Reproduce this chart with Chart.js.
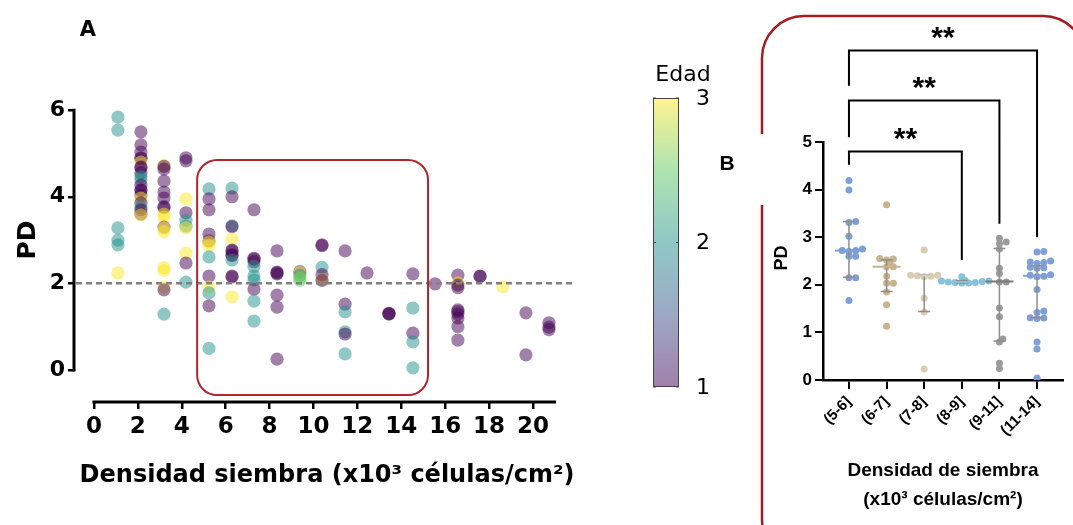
<!DOCTYPE html>
<html>
<head>
<meta charset="utf-8">
<script src="https://cdn.jsdelivr.net/npm/chart.js@4"></script>
<style>
body { margin: 0; background: #fff; }
#wrap { position: relative; width: 1073px; height: 525px; overflow: hidden; background: #fff; }
#chartA { position: absolute; left: 0; top: 0; }
#chartB { position: absolute; left: 700px; top: 0; }
</style>
</head>
<body>
<div id="wrap">
<canvas id="chartA" width="720" height="525"></canvas>
<canvas id="chartB" width="373" height="525"></canvas>
</div>
<script>
// ---- panel A: PD vs seeding density, coloured by age ----
const ticksXA = [0, 2, 4, 6, 8, 10, 12, 14, 16, 18, 20]
const ticksYA = [0, 2, 4, 6]
const edadTicks = [1, 2, 3]
const lineaRef = 2

// one entry per column of dots (density)
const densidad = [1.09, 2.14, 3.19, 4.19, 5.24, 6.29, 7.29, 8.34, 9.38, 10.39,
    11.44, 12.44, 13.44, 14.53, 15.54, 16.58, 17.59, 18.63, 19.68, 20.73]
const pd = [
    [5.84, 5.54, 3.28, 3.0, 2.89, 2.24],
    [5.5, 5.2, 5.03, 4.9, 4.88, 4.8, 4.69, 4.67, 4.55, 4.46, 4.39, 4.27, 4.16, 4.14, 4.04, 3.97, 3.86, 3.76, 3.7, 3.6, 3.58],
    [4.73, 4.7, 4.64, 4.36, 4.11, 3.97, 3.77, 3.75, 3.6, 3.53, 3.3, 3.28, 3.19, 2.36, 2.3, 1.92, 1.85, 1.29],
    [4.9, 4.83, 3.95, 3.63, 3.46, 3.32, 3.28, 2.7, 2.47, 2.03],
    [4.18, 3.95, 3.7, 3.14, 2.98, 2.95, 2.88, 2.61, 2.17, 1.92, 1.78, 1.48, 0.5],
    [4.2, 4.0, 3.33, 3.31, 3.02, 2.77, 2.75, 2.66, 2.64, 2.54, 2.17, 2.15, 1.69],
    [3.7, 2.58, 2.56, 2.5, 2.39, 2.17, 2.08, 1.87, 1.59, 1.13],
    [2.75, 2.26, 2.24, 2.22, 1.73, 1.45, 0.25],
    [2.27, 2.25, 2.19, 2.12, 2.07],
    [2.89, 2.87, 2.37, 2.2, 2.08, 2.07],
    [2.75, 1.52, 1.34, 0.88, 0.83, 0.37],
    [2.24],
    [1.31, 1.3, 1.29],
    [2.22, 1.43, 0.85, 0.65, 0.05],
    [1.99],
    [2.19, 2.01, 1.96, 1.9, 1.39, 1.35, 1.29, 1.2, 1.0, 0.69],
    [2.17, 2.16],
    [1.92],
    [1.32, 0.35],
    [1.09, 0.99, 0.93],
]
const edad = [
    [2, 2, 2, 2, 2, 3],
    [1, 1, 1, 1, 1, 3, 1, 1, 1, 2, 2, 1, 1, 1, 1, 3, 1, 2, 1, 1, 3],
    [3, 1, 1, 1, 1, 1, 1, 1, 3, 3, 1, 3, 3, 3, 3, 3, 1, 2],
    [1, 1, 3, 1, 2, 2, 3, 3, 1, 2],
    [2, 1, 1, 1, 1, 3, 3, 2, 1, 3, 2, 1, 2],
    [2, 1, 2, 1, 3, 1, 1, 1, 1, 2, 1, 1, 3],
    [1, 1, 1, 1, 2, 2, 2, 1, 2, 2],
    [1, 1, 1, 1, 1, 1, 1],
    [1, 3, 2, 2.6, 2.5],
    [1, 1, 2, 1, 3, 1],
    [1, 1, 2, 2, 1, 2],
    [1],
    [1, 1, 1],
    [1, 2, 1, 2, 2],
    [1],
    [1, 3, 1, 1, 1, 1, 1, 1, 1, 1],
    [1, 1],
    [3],
    [1, 1],
    [1, 1, 1],
]

// ---- panel B: PD by density group ----
const grupos = ['(5-6]', '(6-7]', '(7-8]', '(8-9]', '(9-11]', '(11-14]']
const pdGrupos = [
    [4.19, 3.99, 3.33, 3.31, 3.02, 2.75, 2.72, 2.72, 2.7, 2.6, 2.6, 2.15, 2.15, 1.67],
    [3.68, 2.55, 2.54, 2.52, 2.45, 2.38, 2.38, 2.18, 2.03, 2.03, 1.85, 1.58, 1.13],
    [2.73, 2.2, 2.2, 2.19, 2.18, 2.17, 1.72, 1.43, 0.23],
    [2.17, 2.09, 2.08, 2.08, 2.07, 2.06, 2.05, 2.05, 2.04, 2.04],
    [2.98, 2.9, 2.87, 2.75, 2.35, 2.24, 2.06, 2.06, 1.51, 1.33, 0.86, 0.8, 0.35, 0.24],
    [2.7, 2.69, 2.5, 2.48, 2.47, 2.45, 2.37, 2.36, 2.35, 2.21, 2.2, 2.18, 2.17, 1.9, 1.45, 1.42, 1.31, 1.3, 1.29, 0.8, 0.65, 0.04],
]
const medianas = [2.72, 2.38, 2.19, 2.06, 2.07, 2.19]
const q1 = [2.16, 1.86, 1.44, 2.04, 0.82, 1.31]
const q3 = [3.33, 2.52, 2.2, 2.09, 2.76, 2.4]
const comparaciones = [[0, 3], [0, 4], [0, 5]]
const significancia = ['**', '**', '**']

const ticksYB = [0, 1, 2, 3, 4, 5]
const coloresGrupo = ['#7e9fd8', '#c9b38c', '#d9cdb4', '#86c3da', '#9b9b9b', '#7e9fd8']

const fontA = "'DejaVu Sans', sans-serif"
const fontB = "'Liberation Sans', Arial, sans-serif"

const VIRIDIS = [[68, 1, 84], [59, 82, 139], [33, 145, 140], [94, 201, 98], [253, 231, 37]]

function viridis(t, a) {
    t = Math.max(0, Math.min(1, t))
    const p = t * (VIRIDIS.length - 1)
    const i = Math.min(Math.floor(p), VIRIDIS.length - 2)
    const f = p - i
    const c = VIRIDIS[i].map((v, k) => Math.round(v + (VIRIDIS[i + 1][k] - v) * f))
    return `rgba(${c[0]},${c[1]},${c[2]},${a})`
}

function colorEdad(e) {
    return viridis((e - 1) / 2, 0.5)
}

// simple beeswarm so dots with similar values sit side by side
function beeswarm(values, pxX, pxY, step, minDist) {
    const order = values.map((v, i) => i).sort((a, b) => values[a] - values[b])
    const placed = []
    const offsets = new Array(values.length).fill(0)
    order.forEach(i => {
        for (let k = 0; k < 60; k++) {
            const off = (k % 2 ? 1 : -1) * Math.ceil(k / 2) * step
            const ok = placed.every(p => Math.hypot((p.off - off) * pxX, (p.v - values[i]) * pxY) >= minDist)
            if (ok) {
                offsets[i] = off
                placed.push({ off, v: values[i] })
                break
            }
        }
    })
    return offsets
}

let puntosA = []
let edadPuntos = []
densidad.forEach((x, i) => {
    pd[i].forEach((y, j) => {
        puntosA.push({ x, y })
        edadPuntos.push(edad[i][j])
    })
})

function text(ctx, str, x, y, font, align, baseline, rot) {
    ctx.save()
    ctx.translate(x, y)
    if (rot) ctx.rotate(rot)
    ctx.font = font
    ctx.fillStyle = '#000'
    ctx.textAlign = align || 'center'
    ctx.textBaseline = baseline || 'middle'
    ctx.fillText(str, 0, 0)
    ctx.restore()
}

const decorA = {
    id: 'decorA',
    afterDatasetsDraw(chart) {
        const { ctx, scales: { x, y }, chartArea } = chart
        // reference line
        ctx.save()
        ctx.strokeStyle = '#808080'
        ctx.lineWidth = 2.5
        ctx.setLineDash([6, 4])
        ctx.beginPath()
        ctx.moveTo(chartArea.left + 2, y.getPixelForValue(lineaRef))
        ctx.lineTo(x.getPixelForValue(21.8), y.getPixelForValue(lineaRef))
        ctx.stroke()
        ctx.restore()

        // highlighted region
        const x0 = x.getPixelForValue(4.7), x1 = x.getPixelForValue(15.22)
        const y0 = y.getPixelForValue(4.85), y1 = y.getPixelForValue(-0.58)
        ctx.save()
        ctx.strokeStyle = '#b0262b'
        ctx.lineWidth = 2
        ctx.beginPath()
        ctx.roundRect(x0, y0, x1 - x0, y1 - y0, 20)
        ctx.stroke()
        ctx.restore()
    },
    afterDraw(chart) {
        const { ctx, scales: { x, y }, chartArea } = chart
        ctx.save()
        ctx.strokeStyle = '#000'
        ctx.lineWidth = 3
        ctx.beginPath()
        ctx.moveTo(chartArea.left, y.getPixelForValue(0) + 1.5)
        ctx.lineTo(chartArea.left, y.getPixelForValue(6) - 1.5)
        ctx.moveTo(x.getPixelForValue(0) - 1.5, chartArea.bottom)
        ctx.lineTo(chartArea.right, chartArea.bottom)
        ctx.stroke()
        ctx.restore()

        text(ctx, 'A', 88, 31, `bold 21px ${fontA}`)
        text(ctx, 'PD', 28, 240, `bold 25px ${fontA}`, 'center', 'middle', -Math.PI / 2)
        text(ctx, 'Densidad siembra (x10³ células/cm²)', 327, 476, `bold 24px ${fontA}`)

        // colour bar for age
        const bx = 653, by = 98, bw = 26, bh = 289
        const grad = ctx.createLinearGradient(0, by + bh, 0, by)
        for (let i = 0; i <= 20; i++) {
            grad.addColorStop(i / 20, viridis(i / 20, 0.5))
        }
        ctx.save()
        ctx.fillStyle = grad
        ctx.fillRect(bx, by, bw, bh)
        ctx.strokeStyle = '#444'
        ctx.lineWidth = 1
        ctx.strokeRect(bx + 0.5, by + 0.5, bw - 1, bh - 1)
        edadTicks.forEach(v => {
            const ty = by + bh - (v - 1) / 2 * bh
            ctx.beginPath()
            ctx.moveTo(bx, ty); ctx.lineTo(bx + 3, ty)
            ctx.moveTo(bx + bw, ty); ctx.lineTo(bx + bw - 3, ty)
            ctx.stroke()
            text(ctx, String(v), bx + 43, ty + 1, `22px ${fontA}`, 'left')
        })
        ctx.restore()
        text(ctx, 'Edad', 683, 75, `22px ${fontA}`)
    },
}

new Chart('chartA', {
    type: 'scatter',
    data: {
        datasets: [{
            data: puntosA,
            backgroundColor: c => colorEdad(edadPuntos[c.dataIndex]),
            borderWidth: 0,
            pointRadius: 6.6,
        }],
    },
    options: {
        responsive: false,
        animation: false,
        layout: { padding: { left: 0, right: 164, top: 101.5, bottom: 0 } },
        plugins: { legend: { display: false }, tooltip: { enabled: false } },
        scales: {
            x: {
                type: 'linear',
                min: -0.91,
                max: 21.05,
                afterBuildTicks: s => { s.ticks = ticksXA.map(v => ({ value: v })) },
                afterFit: s => { s.height = 123 },
                border: { display: false },
                grid: { drawOnChartArea: false, tickLength: 7, color: '#000', lineWidth: 2.5 },
                ticks: { color: '#000', padding: 4, maxRotation: 0, autoSkip: false, font: { family: fontA, size: 23, weight: 'bold' } },
            },
            y: {
                min: -0.74,
                max: 6.2,
                afterBuildTicks: s => { s.ticks = ticksYA.map(v => ({ value: v })) },
                afterFit: s => { s.width = 74 },
                border: { display: false },
                grid: { drawOnChartArea: false, tickLength: 6, color: '#000', lineWidth: 2.5 },
                ticks: { color: '#000', padding: 3, font: { family: fontA, size: 22, weight: 'bold' } },
            },
        },
    },
    plugins: [decorA],
})

// ---- panel B ----
const corchetes = [
    { y: 4.8, izq: 4.52, der: 2.52 },
    { y: 5.87, izq: 5.1, der: 3.28 },
    { y: 6.92, izq: 6.18, der: 3.0 },
]

const decorB = {
    id: 'decorB',
    beforeDraw(chart) {
        const { ctx } = chart
        ctx.save()
        ctx.strokeStyle = '#a51c20'
        ctx.lineWidth = 2.5
        ctx.beginPath()
        ctx.roundRect(62, 16, 323, 545, 42)
        ctx.stroke()
        ctx.fillStyle = '#fff'
        ctx.fillRect(15, 134, 100, 71)
        ctx.restore()
        text(ctx, 'B', 27, 164, `bold 21px ${fontB}`)
    },
    afterDatasetsDraw(chart) {
        const { ctx, scales: { x, y } } = chart
        ctx.save()
        grupos.forEach((g, i) => {
            const cx = x.getPixelForValue(i)
            const lo = y.getPixelForValue(q1[i]), hi = y.getPixelForValue(q3[i]), md = y.getPixelForValue(medianas[i])
            ctx.strokeStyle = '#8e8e8e'
            ctx.lineWidth = 1.5
            ctx.beginPath()
            ctx.moveTo(cx, lo); ctx.lineTo(cx, hi)
            ctx.moveTo(cx - 6, lo); ctx.lineTo(cx + 6, lo)
            ctx.moveTo(cx - 6, hi); ctx.lineTo(cx + 6, hi)
            ctx.stroke()
            ctx.strokeStyle = coloresGrupo[i] === '#9b9b9b' ? '#7a7a7a' : coloresGrupo[i]
            ctx.lineWidth = 2
            ctx.beginPath()
            ctx.moveTo(cx - 14, md); ctx.lineTo(cx + 14, md)
            ctx.stroke()
        })
        ctx.restore()
    },
    afterDraw(chart) {
        const { ctx, scales: { x, y } } = chart
        ctx.save()
        ctx.strokeStyle = '#000'
        ctx.lineWidth = 2
        comparaciones.forEach(([a, b], i) => {
            const c = corchetes[i]
            const xa = x.getPixelForValue(a), xb = x.getPixelForValue(b)
            const yt = y.getPixelForValue(c.y)
            ctx.beginPath()
            ctx.moveTo(xa, y.getPixelForValue(c.izq))
            ctx.lineTo(xa, yt)
            ctx.lineTo(xb, yt)
            ctx.lineTo(xb, y.getPixelForValue(c.der))
            ctx.stroke()
            text(ctx, significancia[i], (xa + xb) / 2, yt - 4, `bold 30px ${fontB}`, 'center', 'alphabetic')
        })
        ctx.restore()

        text(ctx, 'PD', 82, 258, `bold 18px ${fontB}`, 'center', 'middle', -Math.PI / 2)
        text(ctx, 'Densidad de siembra', 243, 471, `bold 19px ${fontB}`)
        text(ctx, '(x10³ células/cm²)', 243, 500, `bold 19px ${fontB}`)
    },
}

new Chart('chartB', {
    type: 'scatter',
    data: {
        datasets: pdGrupos.map((vals, i) => {
            const off = beeswarm(vals, 37.6, 47.6, 0.09, 4)
            return {
                data: vals.map((v, j) => ({ x: i + off[j], y: v })),
                backgroundColor: coloresGrupo[i],
                borderWidth: 0,
                pointRadius: 3.5,
            }
        }),
    },
    options: {
        responsive: false,
        animation: false,
        layout: { padding: { left: 0, right: 10, top: 142, bottom: 0 } },
        plugins: { legend: { display: false }, tooltip: { enabled: false } },
        scales: {
            x: {
                type: 'linear',
                min: -0.69,
                max: 5.69,
                afterBuildTicks: s => { s.ticks = grupos.map((g, i) => ({ value: i })) },
                afterFit: s => { s.height = 145 },
                border: { color: '#000', width: 2.5 },
                grid: { drawOnChartArea: false, tickLength: 9, color: '#000', lineWidth: 2 },
                ticks: {
                    color: '#000', padding: 4, autoSkip: false, minRotation: 45, maxRotation: 45,
                    callback: v => grupos[v] ?? '',
                    font: { family: fontB, size: 15, weight: 'bold' },
                },
            },
            y: {
                min: 0,
                max: 5,
                afterBuildTicks: s => { s.ticks = ticksYB.map(v => ({ value: v })) },
                afterFit: s => { s.width = 123 },
                border: { color: '#000', width: 2.5 },
                grid: { drawOnChartArea: false, tickLength: 8, color: '#000', lineWidth: 2 },
                ticks: { color: '#000', padding: 3, font: { family: fontB, size: 17, weight: 'bold' } },
            },
        },
    },
    plugins: [decorB],
})
</script>
</body>
</html>
